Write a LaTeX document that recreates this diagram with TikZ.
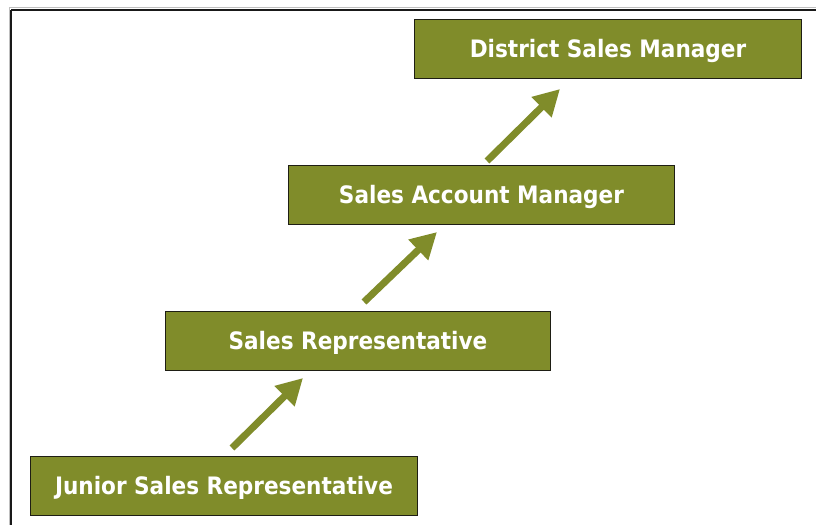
\documentclass[tikz,border=0pt]{standalone}
\usepackage{fontspec}
\setmainfont{DejaVu Sans Condensed}
\usetikzlibrary{arrows.meta,calc}
\definecolor{olive}{RGB}{128,140,42}
\definecolor{edge}{RGB}{30,30,20}
\tikzset{
  rolebox/.style={draw=edge, line width=1pt, fill=olive, text=white,
    font=\fontsize{24}{28}\selectfont\bfseries, inner sep=0pt,
    text height=17pt, text depth=0pt, anchor=north west},
  uparrow/.style={draw=olive, line width=7pt,
    -{Triangle[length=26pt,width=27pt]}, line cap=butt}
}
\begin{document}
\begin{tikzpicture}[x=1pt,y=-1pt]
\useasboundingbox (0,0) rectangle (816,525);
\fill[white] (0,0) rectangle (816,525);
% frame
\draw[black!25, line width=1pt] (9,7.5) -- (816,7.5);
\draw[black!25, line width=1pt] (9,7.5) -- (9,525);
\draw[black!90, line width=2pt] (11,9.5) -- (816,9.5);
\draw[black!90, line width=2pt] (11,9.5) -- (11,525);
% boxes
\node[rolebox, minimum width=387pt, minimum height=59pt] (dsm) at (414,19) {District Sales Manager};
\node[rolebox, minimum width=386pt, minimum height=59pt] (sam) at (288,165) {Sales Account Manager};
\node[rolebox, minimum width=385pt, minimum height=59pt] (sr) at (165,311) {Sales Representative};
\node[rolebox, minimum width=387pt, minimum height=59pt] (jsr) at (30,456) {Junior Sales Representative};
% arrow end points
\coordinate (a1s) at ($(jsr.north west)+(202,-8)$);
\coordinate (a1e) at ($(sr.south west)+(138,7)$);
\coordinate (a2s) at ($(sr.north west)+(199,-9)$);
\coordinate (a2e) at ($(sam.south west)+(149,7)$);
\coordinate (a3s) at ($(sam.north west)+(199,-4)$);
\coordinate (a3e) at ($(dsm.south west)+(146,10)$);
\draw[uparrow] (a1s) -- (a1e);
\draw[uparrow] (a2s) -- (a2e);
\draw[uparrow] (a3s) -- (a3e);
\end{tikzpicture}
\end{document}
